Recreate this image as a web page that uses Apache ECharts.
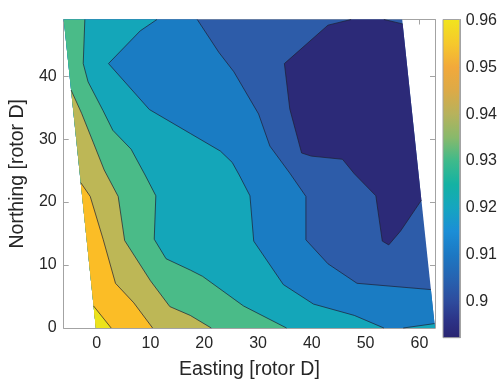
<!DOCTYPE html>
<html>
<head>
<meta charset="utf-8">
<script src="https://cdn.jsdelivr.net/npm/echarts@6/dist/echarts.min.js"></script>
<style>
    html, body { margin: 0; padding: 0; background: #fff; }
    #container { width: 500px; height: 385px; }
</style>
</head>
<body>
<div id="container"></div>
<script>
// axis ranges and tick labels
var xRange = [-6.13, 62.9];
var yRange = [0, 49];
var cRange = [0.8922, 0.9603];
var xTicks = [0, 10, 20, 30, 40, 50, 60];
var yTicks = [0, 10, 20, 30, 40];
var cTicks = [0.9, 0.91, 0.92, 0.93, 0.94, 0.95, 0.96];

// corners of the measured (sheared) area, [easting, northing]
var cornerTL = [-6.13, 49];
var cornerTR = [56.8, 49];
var cornerBR = [62.9, 0];
var cornerBL = [-0.15, 0];

// contour lines, [easting, northing]
var line090a = [[53.4, 49], [56.89, 48.3]];
var line090b = [[60.37, 20.3], [56.5, 15.4], [54.3, 13.2], [53.1, 13.8], [51.9, 21.0], [47.9, 24.5], [45.7, 26.8],
    [39.9, 27.3], [38.1, 27.8], [35.9, 34.8], [34.9, 42.0], [43.0, 48.1], [47.3, 49]];
var line091 = [[18.7, 49], [22.7, 43.8], [25.5, 40.7], [30.1, 34.0], [32.2, 28.9], [35.9, 24.6], [38.9, 20.9],
    [38.9, 14.0], [43.0, 10.2], [48.4, 7.1], [62.14, 6.1]];
var line092 = [[11.2, 49], [8.1, 47.2], [2.2, 42.0], [9.8, 34.7], [17.4, 30.9], [23.0, 28.1], [25.2, 26.3],
    [26.5, 24.3], [28.5, 21.0], [29.2, 13.8], [34.7, 6.9], [40.3, 3.8], [47.9, 2.0], [53.4, 0]];
var line092b = [[57.0, 0], [62.81, 0.7]];
var line093 = [[-2.2, 49], [-2.5, 42.0], [-1.6, 39.1], [1.2, 34.5], [3.0, 31.4], [6.4, 28.4], [9.0, 24.3],
    [11.0, 21.0], [10.7, 14.1], [12.9, 11.0], [17.4, 9.2], [19.7, 8.2], [27.3, 3.5], [35.3, 0]];
var line094 = [[-4.76, 37.8], [-2.8, 34.1], [-0.6, 29.4], [1.4, 25.1], [4.0, 20.9], [5.2, 13.9], [10.0, 7.5],
    [13.6, 3.4], [17.4, 2.0], [21.3, 0]];
var line095 = [[-2.97, 23.1], [-1.2, 20.9], [1.2, 14.1], [3.5, 7.1], [6.9, 4.0], [10.4, 0]];
var line096 = [[-0.58, 3.5], [2.7, 0]];

// styles
var axisColor = '#a3a3a3';
var textColor = '#262626';
var fontFamily = '"Liberation Sans", Arial, sans-serif';
var lineColor = '#1e1e30';
var colorbarStops = [
    [0.8922, '#2a2471'], [0.896, '#2c3387'], [0.90, '#2e4b9d'], [0.905, '#2663b1'], [0.91, '#1c78c3'],
    [0.915, '#1b8ed6'], [0.92, '#15a5c0'], [0.925, '#14b2a3'], [0.93, '#3eba8b'], [0.935, '#88b96b'],
    [0.94, '#b7b25c'], [0.945, '#dcaa47'], [0.95, '#f2a93b'], [0.955, '#f6c82c'], [0.9603, '#f1e51d']
];

// filled regions, painted from lowest band upwards
var fills = [
    { color: '#2d5ca9', points: [cornerTL, cornerTR, cornerBR, cornerBL] },
    { color: '#2c2a78', points: line090b.concat(line090a) },
    { color: '#1a7cc3', points: line091.concat([cornerBR, cornerBL, cornerTL]) },
    { color: '#14a6b9', points: line092.concat([cornerBL, cornerTL]) },
    { color: '#14a6b9', points: line092b.concat([cornerBR]) },
    { color: '#4abb88', points: line093.concat([cornerBL, cornerTL]) },
    { color: '#bdb756', points: line094.concat([cornerBL]) },
    { color: '#fbbd26', points: line095.concat([cornerBL]) },
    { color: '#ece31b', points: line096.concat([cornerBL]) }
];
var lines = [line090a, line090b, line091, line092, line092b, line093, line094, line095, line096];

function toPixels(api, pts) {
    return pts.map(function (p) { return api.coord(p); });
}

var myChart = echarts.init(document.getElementById('container'));
var option = null;

var tickLabel = { color: textColor, fontSize: 16, fontFamily: fontFamily };
var nameStyle = { color: textColor, fontSize: 19.5, fontFamily: fontFamily };

option = {
    animation: false,
    grid: [
        { left: 60, top: 19.5, width: 375, height: 318.2 },
        { left: 443, top: 19.5, width: 19, height: 318.2 }
    ],
    xAxis: [
        {
            gridIndex: 0, type: 'value', min: xRange[0], max: xRange[1], position: 'bottom',
            name: 'Easting [rotor D]', nameLocation: 'middle', nameGap: 32, nameTextStyle: nameStyle,
            axisLine: { show: true, onZero: false, lineStyle: { color: axisColor } },
            axisTick: { show: true, inside: true, length: 5, customValues: xTicks, lineStyle: { color: axisColor } },
            axisLabel: Object.assign({ customValues: xTicks, margin: 8 }, tickLabel),
            splitLine: { show: false }
        },
        {
            gridIndex: 0, type: 'value', min: xRange[0], max: xRange[1], position: 'top',
            axisLine: { show: true, onZero: false, lineStyle: { color: axisColor } },
            axisTick: { show: true, inside: true, length: 5, customValues: xTicks, lineStyle: { color: axisColor } },
            axisLabel: { show: false },
            splitLine: { show: false }
        },
        { gridIndex: 1, type: 'value', min: 0, max: 1, show: false }
    ],
    yAxis: [
        {
            gridIndex: 0, type: 'value', min: yRange[0], max: yRange[1], position: 'left',
            name: 'Northing [rotor D]', nameLocation: 'middle', nameGap: 25, nameRotate: 90, nameTextStyle: nameStyle,
            axisLine: { show: true, onZero: false, lineStyle: { color: axisColor } },
            axisTick: { show: true, inside: true, length: 5, customValues: yTicks, lineStyle: { color: axisColor } },
            axisLabel: Object.assign({ customValues: yTicks, margin: 7 }, tickLabel),
            splitLine: { show: false }
        },
        {
            gridIndex: 0, type: 'value', min: yRange[0], max: yRange[1], position: 'right',
            axisLine: { show: true, onZero: false, lineStyle: { color: axisColor } },
            axisTick: { show: true, inside: true, length: 5, customValues: yTicks, lineStyle: { color: axisColor } },
            axisLabel: { show: false },
            splitLine: { show: false }
        },
        {
            gridIndex: 1, type: 'value', min: cRange[0], max: cRange[1], position: 'right',
            axisLine: { show: true, onZero: false, lineStyle: { color: axisColor } },
            axisTick: { show: true, inside: true, length: 4, customValues: cTicks, lineStyle: { color: axisColor } },
            axisLabel: Object.assign({
                customValues: cTicks, margin: 6,
                formatter: function (v) { return String(+(+v).toFixed(2)); }
            }, tickLabel),
            splitLine: { show: false }
        }
    ],
    series: [
        {
            // contour fills
            type: 'custom', xAxisIndex: 0, yAxisIndex: 0, silent: true, clip: false,
            data: fills.map(function () { return [0, 0]; }),
            renderItem: function (params, api) {
                var f = fills[params.dataIndex];
                return {
                    type: 'polygon',
                    shape: { points: toPixels(api, f.points) },
                    style: { fill: f.color }
                };
            }
        },
        {
            // contour lines
            type: 'custom', xAxisIndex: 0, yAxisIndex: 0, silent: true, clip: false,
            data: lines.map(function () { return [0, 0]; }),
            renderItem: function (params, api) {
                return {
                    type: 'polyline',
                    shape: { points: toPixels(api, lines[params.dataIndex]) },
                    style: { fill: null, stroke: lineColor, lineWidth: 0.7 }
                };
            }
        },
        {
            // colour bar
            type: 'custom', xAxisIndex: 2, yAxisIndex: 2, silent: true, clip: false,
            data: [[0, cRange[0]]],
            renderItem: function (params, api) {
                var p0 = api.coord([0, cRange[1]]);
                var p1 = api.coord([1, cRange[0]]);
                var span = cRange[1] - cRange[0];
                var stops = colorbarStops.map(function (s) {
                    return { offset: (s[0] - cRange[0]) / span, color: s[1] };
                });
                return {
                    type: 'rect',
                    shape: { x: p0[0], y: p0[1], width: p1[0] - p0[0], height: p1[1] - p0[1] },
                    style: {
                        fill: new echarts.graphic.LinearGradient(0, 1, 0, 0, stops),
                        stroke: axisColor, lineWidth: 1
                    }
                };
            }
        }
    ]
};

if (option && typeof option === "object") {
    myChart.setOption(option, true);
}
window.onresize = function () {
    myChart.resize();
};
</script>
</body>
</html>
